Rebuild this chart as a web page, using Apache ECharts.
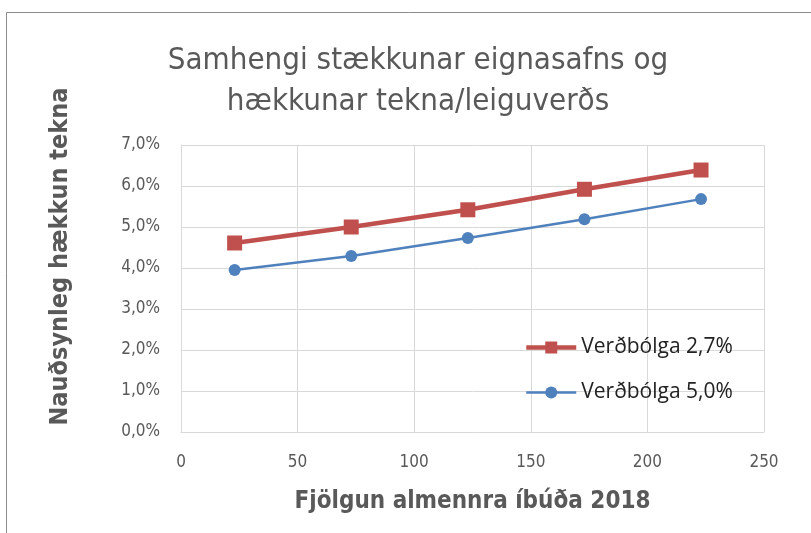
<!DOCTYPE html>
<html>
<head>
<meta charset="utf-8">
<script src="https://cdn.jsdelivr.net/npm/echarts@6/dist/echarts.min.js"></script>
<style>
  html, body { margin: 0; padding: 0; background: #fff; }
  #main { width: 811px; height: 533px; }
</style>
</head>
<body>
<div id="main"></div>
<script>
// gögn lesin af myndinni
var xVals = [23, 73, 123, 173, 223]
var infl27 = [4.61, 5.0, 5.42, 5.92, 6.39]
var infl50 = [3.95, 4.29, 4.73, 5.19, 5.68]
var seriesNames = ['Verðbólga 2,7%', 'Verðbólga 5,0%']

var font = "'Liberation Sans Narrow', 'DejaVu Sans Condensed', 'Noto Sans', sans-serif"
var gray = '#595959'

function pairs(xs, ys) {
  return xs.map(function (x, i) { return [x, ys[i]] })
}

var chartDom = document.getElementById('main')
var myChart = echarts.init(chartDom)
var option = {
  animation: false,
  title: {
    text: 'Samhengi stækkunar eignasafns og\nhækkunar tekna/leiguverðs',
    left: 413,
    textAlign: 'center',
    top: 35,
    textStyle: {
      fontFamily: font,
      fontSize: 31,
      fontWeight: 'normal',
      color: gray,
      lineHeight: 41
    }
  },
  graphic: [{
    type: 'rect',
    shape: { x: 6.5, y: 12.5, width: 900, height: 600 },
    style: { fill: 'none', stroke: '#8c8c8c', lineWidth: 1 }
  }],
  legend: {
    orient: 'vertical',
    left: 524,
    top: 337,
    padding: 0,
    itemWidth: 50,
    itemHeight: 15,
    itemGap: 24,
    data: [
      { name: seriesNames[0], lineStyle: { width: 4.5 } },
      { name: seriesNames[1], lineStyle: { width: 2.5 } }
    ],
    textStyle: { fontFamily: "'Open Sans', 'Noto Sans', sans-serif", fontSize: 21, color: '#222' }
  },
  grid: { left: 181, right: 47, top: 145, bottom: 101 },
  xAxis: {
    type: 'value',
    min: 0,
    max: 250,
    interval: 50,
    name: 'Fjölgun almennra íbúða 2018',
    nameLocation: 'middle',
    nameGap: 58,
    nameTextStyle: { fontFamily: font, fontSize: 24, fontWeight: 'bold', color: gray },
    axisLine: { show: true, lineStyle: { color: '#d9d9d9' } },
    axisTick: { show: false },
    axisLabel: { fontFamily: font, fontSize: 17, color: gray, margin: 22 },
    splitLine: { show: true, lineStyle: { color: '#d9d9d9', width: 1 } }
  },
  yAxis: {
    type: 'value',
    min: 0,
    max: 7,
    interval: 1,
    name: 'Nauðsynleg hækkun tekna',
    nameLocation: 'middle',
    nameGap: 108,
    nameTextStyle: {
      fontFamily: font,
      fontSize: 25,
      fontWeight: 'bold',
      color: gray,
      padding: [0, 0, 0, 64]
    },
    axisLine: { show: true, lineStyle: { color: '#d9d9d9' } },
    axisTick: { show: false },
    axisLabel: {
      fontFamily: font,
      fontSize: 17,
      color: gray,
      margin: 21,
      formatter: function (v) { return v.toFixed(1).replace('.', ',') + '%' }
    },
    splitLine: { show: true, lineStyle: { color: '#d9d9d9', width: 1 } }
  },
  series: [
    {
      name: seriesNames[0],
      type: 'line',
      data: pairs(xVals, infl27),
      symbol: 'rect',
      symbolSize: 15,
      color: '#c0504d',
      lineStyle: { width: 4.5 },
      itemStyle: { color: '#c0504d' }
    },
    {
      name: seriesNames[1],
      type: 'line',
      data: pairs(xVals, infl50),
      symbol: 'circle',
      symbolSize: 12,
      color: '#4f81bd',
      lineStyle: { width: 2.5 },
      itemStyle: { color: '#4f81bd' }
    }
  ]
}
myChart.setOption(option)
</script>
</body>
</html>
